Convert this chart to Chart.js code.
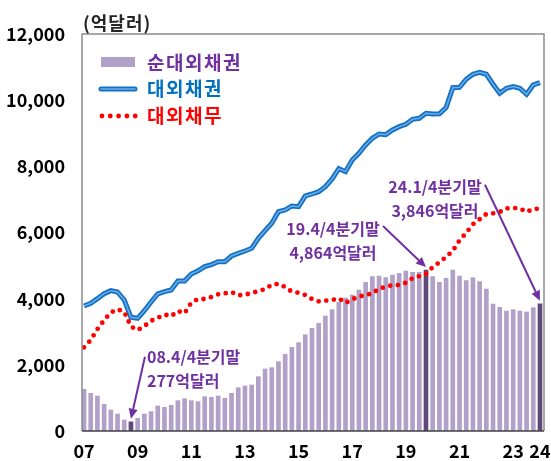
<!DOCTYPE html>
<html>
<head>
<meta charset="utf-8">
<script src="https://cdn.jsdelivr.net/npm/chart.js@4.4.1/dist/chart.umd.min.js"></script>
<style>
  html, body { margin: 0; padding: 0; background: #fff; }
  #wrap { width: 551px; height: 461px; }
</style>
</head>
<body>
<div id="wrap"><canvas id="chart" width="551" height="461"></canvas></div>
<script>
// 분기 (연도.분기)
const quarters = [
  '07.1','07.2','07.3','07.4','08.1','08.2','08.3','08.4',
  '09.1','09.2','09.3','09.4','10.1','10.2','10.3','10.4',
  '11.1','11.2','11.3','11.4','12.1','12.2','12.3','12.4',
  '13.1','13.2','13.3','13.4','14.1','14.2','14.3','14.4',
  '15.1','15.2','15.3','15.4','16.1','16.2','16.3','16.4',
  '17.1','17.2','17.3','17.4','18.1','18.2','18.3','18.4',
  '19.1','19.2','19.3','19.4','20.1','20.2','20.3','20.4',
  '21.1','21.2','21.3','21.4','22.1','22.2','22.3','22.4',
  '23.1','23.2','23.3','23.4','24.1'
];

// 억달러
const netClaims = [
  1260, 1140, 1058, 806, 635, 514, 332, 277,
  383, 514, 585, 756, 716, 776, 917, 977,
  917, 887, 1038, 1018, 1058, 988, 1140, 1310,
  1360, 1390, 1642, 1874, 1914, 2096, 2318, 2530,
  2670, 2910, 3103, 3255, 3476, 3667, 3889, 4020,
  4111, 4262, 4494, 4665, 4685, 4635, 4716, 4766,
  4836, 4796, 4796, 4864, 4665, 4494, 4615, 4866,
  4685, 4544, 4635, 4514, 4293, 3839, 3738, 3627,
  3667, 3627, 3597, 3728, 3846
];
const claims = [
  3779, 3860, 4000, 4151, 4242, 4202, 3960, 3437,
  3407, 3637, 3900, 4141, 4212, 4262, 4534, 4534,
  4746, 4840, 4968, 5028, 5118, 5118, 5290, 5371,
  5441, 5522, 5825, 6055, 6279, 6630, 6681, 6802,
  6782, 7104, 7164, 7235, 7386, 7618, 7930, 7839,
  8192, 8395, 8646, 8848, 8978, 8958, 9099, 9199,
  9271, 9422, 9453, 9604, 9583, 9590, 9774, 10378,
  10390, 10632, 10783, 10843, 10783, 10481, 10209, 10360,
  10410, 10360, 10178, 10460, 10530
];
const debt = [
  2530, 2750, 3080, 3350, 3580, 3680, 3600, 3160,
  3050, 3170, 3330, 3420, 3520, 3470, 3630, 3560,
  3880, 3990, 3990, 4050, 4130, 4160, 4200, 4100,
  4120, 4170, 4230, 4290, 4420, 4450, 4350, 4210,
  4180, 4110, 3990, 3920, 3940, 3960, 4010, 3870,
  3980, 4060, 4110, 4160, 4300, 4360, 4410, 4410,
  4480, 4620, 4680, 4750, 4950, 5100, 5260, 5450,
  5760, 5990, 6250, 6400, 6560, 6580, 6620, 6730,
  6740, 6730, 6620, 6710, 6720
];

const xTicks = ['07.1','09.1','11.1','13.1','15.1','17.1','19.1','21.1','23.1','24.1'];
const highlight = ['08.4', '19.4', '24.1'];
const callouts = [
  { q: '08.4', title: '08.4/4분기말', amount: '277억달러' },
  { q: '19.4', title: '19.4/4분기말', amount: '4,864억달러' },
  { q: '24.1', title: '24.1/4분기말', amount: '3,846억달러' }
];
const unitLabel = '(억달러)';

const FONT = "'Noto Sans CJK KR', 'Malgun Gothic', sans-serif";
const PURPLE = '#7030A0';
const BAR = '#B1A0C7';
const BAR_DARK = '#5F497A';
const BLUE = '#1470C2';
const BLUE_IN = '#6AAEEA';
const RED = '#FF0000';

// callout layout, offsets from the arrow tip
const calloutLayout = {
  '08.4': { sx: 14, sy: -62, tx: 16, align: 'left', y1: -62, y2: -38 },
  '19.4': { sx: -43, sy: -41, tx: -93, align: 'center', y1: -38, y2: -14 },
  '24.1': { sx: -55, sy: -116, tx: -105, align: 'center', y1: -114, y2: -90 }
};

function arrow(ctx, x1, y1, x2, y2) {
  const ang = Math.atan2(y2 - y1, x2 - x1);
  const hl = 10, hw = 4.5;
  const bx = x2 - hl * Math.cos(ang), by = y2 - hl * Math.sin(ang);
  ctx.beginPath();
  ctx.moveTo(x1, y1);
  ctx.lineTo(bx, by);
  ctx.stroke();
  ctx.beginPath();
  ctx.moveTo(x2, y2);
  ctx.lineTo(bx + hw * Math.sin(ang), by - hw * Math.cos(ang));
  ctx.lineTo(bx - hw * Math.sin(ang), by + hw * Math.cos(ang));
  ctx.closePath();
  ctx.fill();
}

const decor = {
  id: 'decor',
  afterDraw(chart) {
    const { ctx, scales, chartArea: a } = chart;
    ctx.save();
    ctx.setLineDash([]);
    ctx.lineCap = 'butt';

    // plot frame
    ctx.strokeStyle = '#8c8c8c';
    ctx.lineWidth = 1.5;
    ctx.beginPath();
    ctx.moveTo(a.left, a.bottom);
    ctx.lineTo(a.left, a.top);
    ctx.lineTo(a.right, a.top);
    ctx.lineTo(a.right, a.bottom);
    ctx.stroke();
    ctx.strokeStyle = '#404040';
    ctx.beginPath();
    ctx.moveTo(a.left, a.bottom);
    ctx.lineTo(a.right, a.bottom);
    ctx.stroke();

    // unit
    ctx.font = 'bold 18px ' + FONT;
    ctx.letterSpacing = '1px';
    ctx.fillStyle = '#262626';
    ctx.textBaseline = 'middle';
    ctx.textAlign = 'left';
    ctx.fillText(unitLabel, 83, 23);

    // legend
    const ds = chart.data.datasets;
    const lx = 101, tx = 147;
    ctx.fillStyle = BAR;
    ctx.fillRect(lx, 57, 34, 10);
    ctx.lineCap = 'round';
    ctx.strokeStyle = BLUE; ctx.lineWidth = 5;
    ctx.beginPath(); ctx.moveTo(lx, 89); ctx.lineTo(lx + 34, 89); ctx.stroke();
    ctx.strokeStyle = BLUE_IN; ctx.lineWidth = 1.5;
    ctx.beginPath(); ctx.moveTo(lx, 89); ctx.lineTo(lx + 34, 89); ctx.stroke();
    ctx.fillStyle = RED;
    for (let k = 0; k < 5; k++) {
      ctx.beginPath(); ctx.arc(lx + 1 + k * 8.3, 116, 2.4, 0, Math.PI * 2); ctx.fill();
    }
    ctx.font = 'bold 19px ' + FONT;
    ctx.letterSpacing = '1.5px';
    ctx.fillStyle = PURPLE; ctx.fillText(ds[0].label, tx, 63);
    ctx.fillStyle = '#0070C0'; ctx.fillText(ds[1].label, tx, 89);
    ctx.fillStyle = RED; ctx.fillText(ds[3].label, tx, 116);

    // callouts
    ctx.font = 'bold 16px ' + FONT;
    ctx.letterSpacing = '0px';
    ctx.fillStyle = PURPLE;
    ctx.strokeStyle = PURPLE;
    ctx.lineWidth = 2;
    ctx.lineCap = 'butt';
    callouts.forEach(c => {
      const i = quarters.indexOf(c.q);
      const L = calloutLayout[c.q];
      const px = scales.x.getPixelForValue(i);
      const py = scales.y.getPixelForValue(netClaims[i]) - 3;
      arrow(ctx, px + L.sx, py + L.sy, px, py);
      ctx.textAlign = L.align;
      ctx.fillText(c.title, px + L.tx, py + L.y1);
      ctx.fillText(c.amount, px + L.tx, py + L.y2);
    });
    ctx.restore();
  }
};

const pts = arr => arr.map((v, i) => ({ x: i, y: v }));

new Chart(document.getElementById('chart'), {
  type: 'bar',
  data: {
    datasets: [
      {
        label: '순대외채권',
        type: 'bar',
        data: pts(netClaims),
        backgroundColor: quarters.map(q => highlight.includes(q) ? BAR_DARK : BAR),
        barThickness: 4,
        order: 3
      },
      {
        label: '대외채권',
        type: 'line',
        data: pts(claims),
        borderColor: BLUE,
        borderWidth: 5,
        pointRadius: 0,
        tension: 0,
        order: 2
      },
      {
        label: '',
        type: 'line',
        data: pts(claims),
        borderColor: BLUE_IN,
        borderWidth: 1.5,
        pointRadius: 0,
        tension: 0,
        order: 1
      },
      {
        label: '대외채무',
        type: 'line',
        data: pts(debt),
        borderColor: RED,
        borderWidth: 4.8,
        borderDash: [0, 7.7],
        borderCapStyle: 'round',
        pointRadius: 0,
        tension: 0,
        order: 0
      }
    ]
  },
  options: {
    responsive: false,
    animation: false,
    layout: { padding: { top: 34, right: 7, left: 0, bottom: 0 } },
    plugins: { legend: { display: false }, tooltip: { enabled: false } },
    scales: {
      x: {
        type: 'linear',
        offset: false,
        min: -0.3,
        max: 68.6,
        grid: { display: false, drawTicks: false, offset: false },
        border: { display: false },
        afterBuildTicks: s => { s.ticks = xTicks.map(q => ({ value: quarters.indexOf(q) })); },
        afterFit: s => { s.height = 30; s.paddingLeft = 0; s.paddingRight = 0; },
        ticks: {
          autoSkip: false,
          maxRotation: 0,
          padding: 9,
          color: '#000',
          font: { family: FONT, size: 18, weight: 'bold' },
          callback: v => quarters[v].slice(0, 2)
        }
      },
      y: {
        min: 0,
        max: 12000,
        grid: { display: false, drawTicks: false },
        border: { display: false },
        afterFit: s => { s.width = 82; },
        ticks: {
          stepSize: 2000,
          padding: 17,
          color: '#000',
          font: { family: FONT, size: 18, weight: 'bold' },
          callback: v => v.toLocaleString('en-US')
        }
      }
    }
  },
  plugins: [decor]
});
</script>
</body>
</html>
